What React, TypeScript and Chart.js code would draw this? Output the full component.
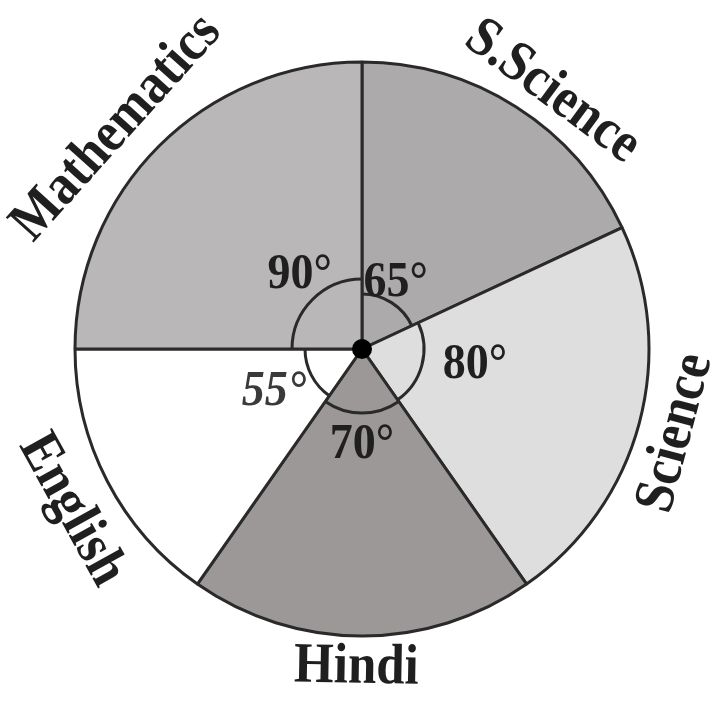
import React, { useEffect, useRef } from "react";
import { Chart, registerables } from "chart.js";

Chart.register(...registerables);

// Data (clockwise from 12 o'clock)
const subjects = ["S.Science", "Science", "Hindi", "English", "Mathematics"];
const degrees = [65, 80, 70, 55, 90];
const degreeLabels = ["65°", "80°", "70°", "55°", "90°"];

// Styling
const sliceColors = ["#adaaac", "#dfdede", "#9b9897", "#ffffff", "#bab7b9"];
const angleArcRadius = [55, 62, 64, 57, 70];
const degLabelRadius = [74, 114, 96, 98, 97];
const degLabelShift = [-5.5, -7, 0, 1.5, 5];
const nameRadius = [320, 325, 319, 332, 330];
const nameShift = [4, 0, 1, -1.5, -3];

const INK = "#1f1f1f";
const SERIF = '"Liberation Serif", "DejaVu Serif", serif';

const overlay = {
  id: "overlay",
  afterDatasetsDraw(chart: any) {
    const ctx: CanvasRenderingContext2D = chart.ctx;
    const meta = chart.getDatasetMeta(0);
    let cx = 0;
    let cy = 0;
    ctx.save();
    meta.data.forEach((el: any, i: number) => {
      const p = el.getProps(["x", "y", "startAngle", "endAngle"], true);
      cx = p.x;
      cy = p.y;
      // angle arc
      ctx.beginPath();
      ctx.arc(p.x, p.y, angleArcRadius[i], p.startAngle, p.endAngle);
      ctx.lineWidth = 3;
      ctx.strokeStyle = "#2a2a2a";
      ctx.stroke();
    });
    // centre dot
    ctx.beginPath();
    ctx.arc(cx, cy, 10, 0, Math.PI * 2);
    ctx.fillStyle = "#000";
    ctx.fill();

    meta.data.forEach((el: any, i: number) => {
      const p = el.getProps(["x", "y", "startAngle", "endAngle"], true);
      const mid = (p.startAngle + p.endAngle) / 2;
      // degree label
      const da = mid + (degLabelShift[i] * Math.PI) / 180;
      const dx = p.x + degLabelRadius[i] * Math.cos(da);
      const dy = p.y + degLabelRadius[i] * Math.sin(da);
      ctx.save();
      ctx.translate(dx, dy);
      ctx.scale(1, 1.12);
      ctx.textAlign = "center";
      ctx.textBaseline = "middle";
      ctx.fillStyle = i === 3 ? "#3a3a3a" : INK;
      ctx.font = (i === 3 ? "italic bold " : "bold ") + "46px " + SERIF;
      ctx.fillText(degreeLabels[i], 0, 0);
      ctx.restore();

      // subject label along the circle
      const na = mid + (nameShift[i] * Math.PI) / 180;
      const nx = p.x + nameRadius[i] * Math.cos(na);
      const ny = p.y + nameRadius[i] * Math.sin(na);
      const rot = Math.sin(na) < 0 ? na + Math.PI / 2 : na - Math.PI / 2;
      ctx.save();
      ctx.translate(nx, ny);
      ctx.rotate(rot);
      ctx.scale(1, 1.12);
      ctx.textAlign = "center";
      ctx.textBaseline = "middle";
      ctx.fillStyle = INK;
      ctx.font = "bold 51px " + SERIF;
      ctx.fillText(subjects[i], 0, 0);
      ctx.restore();
    });
    ctx.restore();
  },
};

export default function App() {
  const ref = useRef<HTMLCanvasElement | null>(null);
  useEffect(() => {
    if (!ref.current) return;
    const chart = new Chart(ref.current, {
      type: "pie",
      data: {
        labels: subjects,
        datasets: [
          {
            data: degrees,
            backgroundColor: sliceColors,
            borderColor: "#2a2a2a",
            borderWidth: 3,
            radius: 287,
          } as any,
        ],
      },
      options: {
        responsive: false,
        animation: false,
        events: [],
        radius: 287,
        layout: { padding: { left: 10, right: 0, top: 0, bottom: 3 } },
        plugins: {
          legend: { display: false },
          tooltip: { enabled: false },
          title: { display: false },
        },
      } as any,
      plugins: [overlay],
    });
    return () => chart.destroy();
  }, []);
  return (
    <div style={{ position: "absolute", left: 0, top: 0, width: 714, height: 701, background: "#fff" }}>
      <canvas ref={ref} width={714} height={701} style={{ width: 714, height: 701, display: "block" }} />
    </div>
  );
}
